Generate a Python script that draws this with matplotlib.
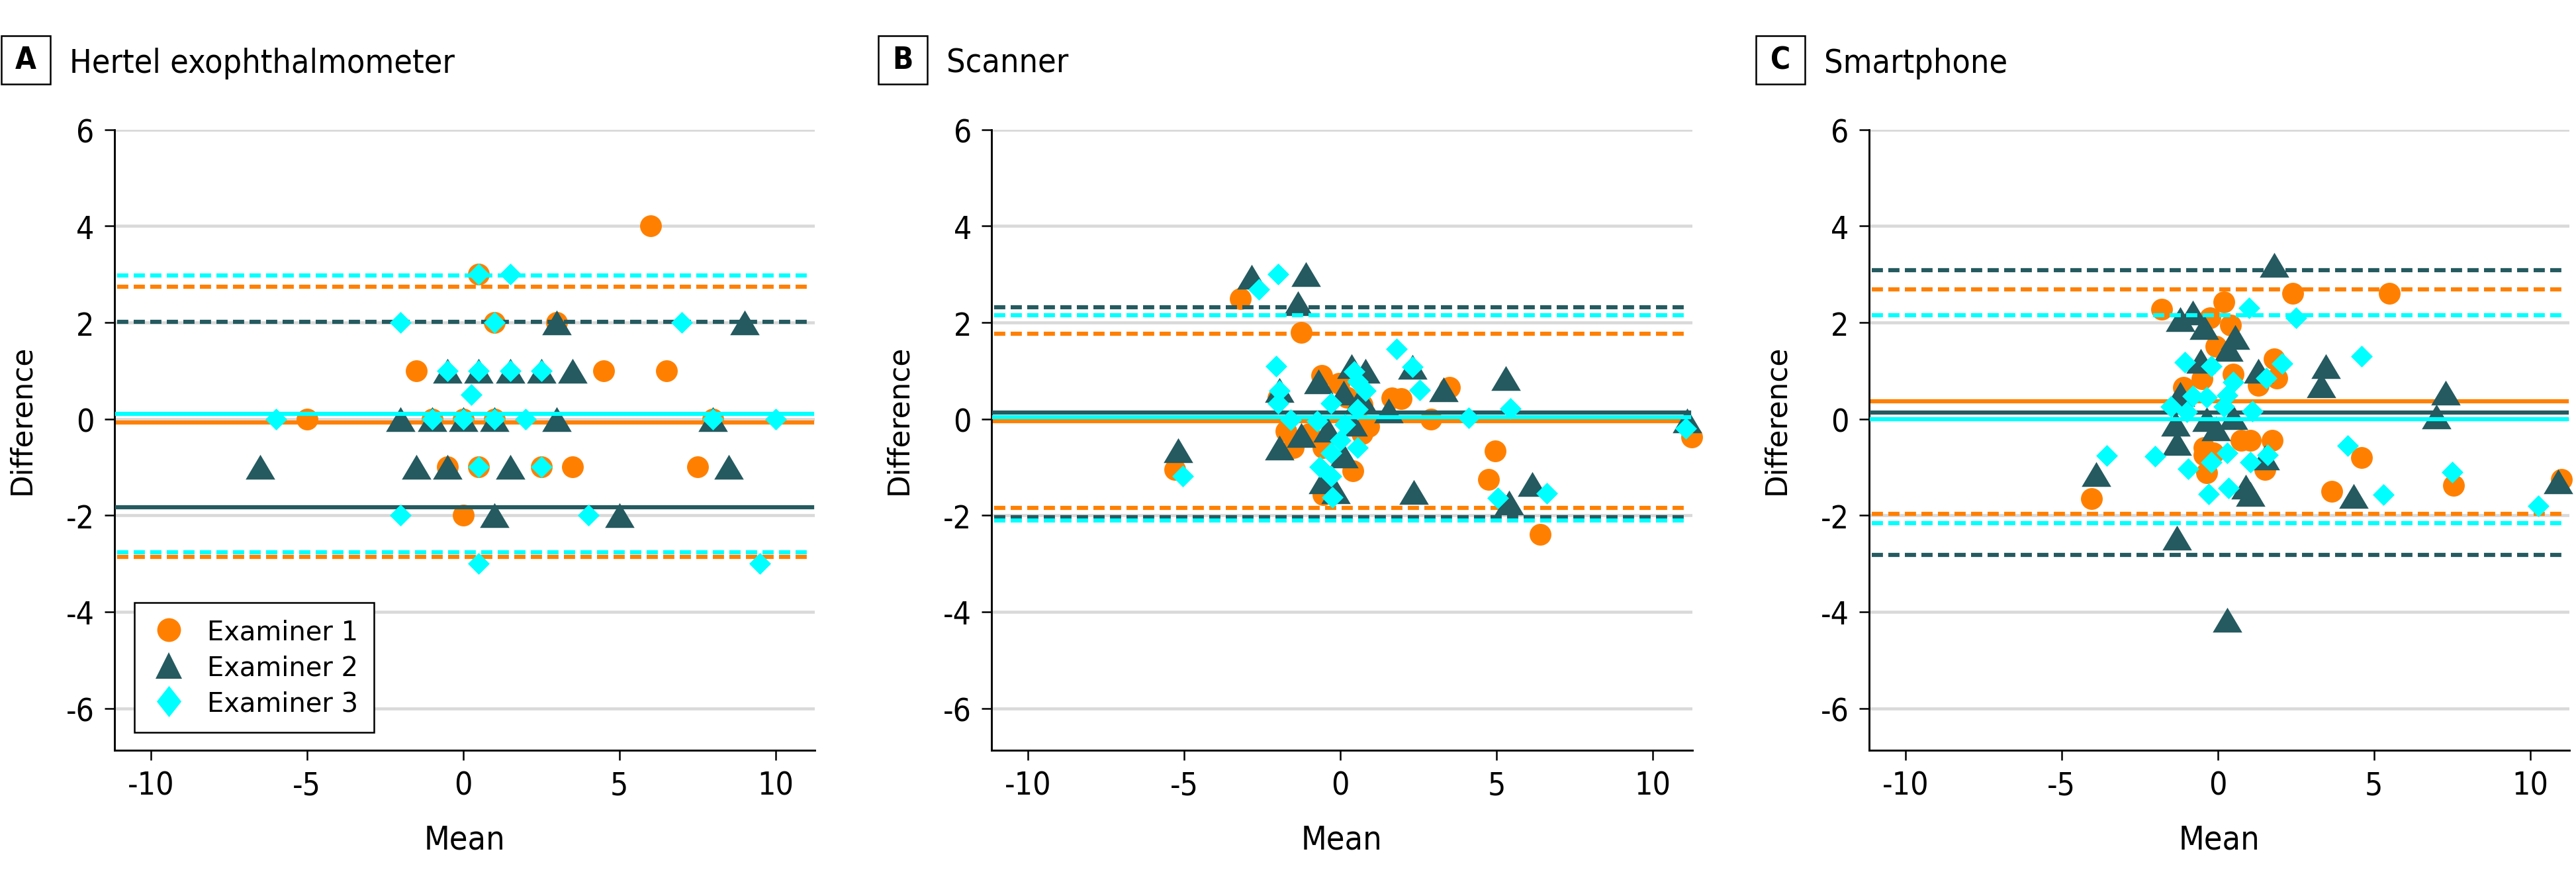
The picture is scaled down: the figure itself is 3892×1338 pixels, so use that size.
import matplotlib
matplotlib.use('Agg')
import matplotlib.pyplot as plt
from matplotlib.lines import Line2D
from matplotlib.patches import Rectangle
from matplotlib import font_manager

plt.rcParams['axes.unicode_minus'] = False

# Bland-Altman style panels: mean vs difference, three examiners
panel_letters = ['A', 'B', 'C']
panel_titles = ['Hertel exophthalmometer', 'Scanner', 'Smartphone']
examiners = ['Examiner 1', 'Examiner 2', 'Examiner 3']

# bias (solid) and limits of agreement (dashed), order: examiner 1, 2, 3
hertel_solid = [-0.07, -1.83, 0.10]
hertel_dashed = [[2.74, -2.86], [2.02], [2.98, -2.76]]
scanner_solid = [-0.05, 0.13, 0.03]
scanner_dashed = [[1.77, -1.84], [2.32, -2.03], [2.15, -2.10]]
smartphone_solid = [0.36, 0.13, 0.0]
smartphone_dashed = [[2.69, -1.97], [3.08, -2.82], [2.15, -2.16]]

# panel A
hertel_e1_mean = [-5, -1.5, -1, -0.5, 0, 0, 0.5, 0.5, 1, 1, 2.5, 3, 3.5, 4.5, 6, 6.5, 7.5, 8]
hertel_e1_diff = [0, 1, 0, -1, 0, -2, 3, -1, 2, 0, -1, 2, -1, 1, 4, 1, -1, 0]
hertel_e2_mean = [-6.5, -2, -1.5, -1, -0.5, -0.5, 0, 0.5, 1, 1, 1.5, 1.5, 2.5, 3, 3, 3.5, 5, 8, 8.5, 9]
hertel_e2_diff = [-1, 0, -1, 0, 1, -1, 0, 1, 0, -2, 1, -1, 1, 2, 0, 1, -2, 0, -1, 2]
hertel_e3_mean = [-6, -2, -2, -1, -0.5, 0, 0.25, 0.5, 0.5, 0.5, 0.5, 1, 1, 1.5, 1.5, 2, 2.5, 2.5, 4, 7, 8, 9.5, 10]
hertel_e3_diff = [0, 2, -2, 0, 1, 0, 0.5, 3, 1, -1, -3, 2, 0, 3, 1, 0, 1, -1, -2, 2, 0, -3, 0]

# panel B
scanner_e1_mean = [-5.3, -3.2, -2.0, -1.75, -1.25, -1.5, -0.6, -0.05, 0.7, 0.7, -0.55, 0.4, -0.55,
                   1.65, 1.95, 2.9, 3.5, 4.95, 4.75, 6.4, 11.25, 0.2, -1.0, 0.9]
scanner_e1_diff = [-1.05, 2.5, 0.44, -0.25, 1.8, -0.6, 0.9, 0.74, 0.3, -0.3, -0.6, -1.08, -1.57,
                   0.44, 0.42, 0.0, 0.66, -0.66, -1.26, -2.4, -0.37, 0.45, -0.3, -0.15]
scanner_e2_mean = [-5.2, -2.85, -1.1, -1.35, -1.95, -1.95, -1.25, -0.7, 0.35, 0.8, 0.1, 0.65, -0.4,
                   0.1, -0.55, -0.15, 1.55, 2.3, 3.3, 5.3, 2.35, 6.15, 5.4, 11.1, 0.4]
scanner_e2_diff = [-0.65, 2.95, 3.0, 2.4, 0.6, -0.6, -0.33, 0.78, 1.1, 1.0, 0.54, 0.44, -0.23,
                   -0.76, -1.3, -1.5, 0.17, 1.08, 0.62, 0.85, -1.52, -1.35, -1.74, -0.03, -0.1]
scanner_e3_mean = [-5.05, -2.6, -2.0, -2.05, -1.95, -2.0, -1.6, -0.3, 0.45, 0.55, 0.8, 0.55, -0.75,
                   0.15, 0.0, 0.55, -0.3, -0.65, -0.3, -0.25, 1.8, 2.3, 2.55, 4.1, 5.45, 5.05,
                   6.6, 11.05]
scanner_e3_diff = [-1.18, 2.68, 3.0, 1.1, 0.58, 0.32, -0.02, 0.32, 0.98, 0.78, 0.59, 0.2, -0.05,
                   -0.12, -0.45, -0.6, -0.7, -1.0, -1.18, -1.62, 1.45, 1.08, 0.6, 0.02, 0.22, -1.64,
                   -1.54, -0.2]

# panel C
smartphone_e1_mean = [-4.05, -1.8, -0.25, 0.2, 0.4, -0.05, -0.5, 0.5, -1.1, 0.75, -0.45, -0.45, -0.15,
                      -0.35, 1.3, 1.8, 1.9, 1.75, 1.5, 1.05, 2.4, 5.5, 4.6, 3.65, 7.55, 11.0]
smartphone_e1_diff = [-1.65, 2.27, 2.1, 2.43, 1.95, 1.5, 0.83, 0.93, 0.66, -0.44, -0.6, -0.75, -0.7,
                      -1.12, 0.7, 1.25, 0.85, -0.45, -1.05, -0.45, 2.6, 2.6, -0.8, -1.5, -1.38, -1.25]
smartphone_e2_mean = [-3.9, -1.2, -0.8, -0.45, 0.55, 0.35, -0.55, -1.2, -1.35, -1.3, -0.35, -0.05, 0.5,
                      0.9, -1.3, 0.3, 1.3, 1.5, 1.05, 1.8, 3.45, 3.3, 7.3, 7.0, 4.35, 10.9]
smartphone_e2_diff = [-1.15, 2.07, 2.2, 1.9, 1.7, 1.45, 1.2, 0.52, -0.1, -0.5, 0.0, -0.2, 0.03,
                      -1.4, -2.46, -4.17, 1.0, -0.8, -1.55, 3.2, 1.1, 0.7, 0.55, 0.05, -1.6, -1.3]
smartphone_e3_mean = [-3.55, -2.0, -1.05, -0.2, -0.8, -0.35, 0.5, 0.3, -1.5, -1.0, 0.2, 1.1, -0.95,
                      -0.2, 0.3, 1.05, -0.3, 0.35, 1.0, 2.05, 1.55, 1.6, 2.5, 4.6, 4.15, 5.3, 7.5, 10.25]
smartphone_e3_diff = [-0.76, -0.78, 1.18, 1.1, 0.48, 0.45, 0.76, 0.49, 0.26, 0.14, 0.25, 0.16, -1.04,
                      -0.9, -0.7, -0.9, -1.56, -1.43, 2.3, 1.15, 0.85, -0.75, 2.1, 1.3, -0.55, -1.57,
                      -1.1, -1.8]

colors = ['#ff8000', '#245a60', '#00ffff']
tri = [(-1, -0.84), (1, -0.84), (0, 0.84)]
dia = [(0, 1), (1, 0), (0, -1), (-1, 0)]
markers = ['o', tri, dia]
msizes = [7.9, 10.7, 7.9]

# condensed face if the system has one, otherwise a narrow-ish sans
narrow_family = 'Liberation Sans'
narrow_stretch = 'normal'
for f in font_manager.fontManager.ttflist:
    if f.name == 'DejaVu Sans' and f.stretch == 'condensed' and f.weight in (400, 'normal'):
        narrow_family, narrow_stretch = 'DejaVu Sans', 'condensed'
        break
narrow = dict(family=narrow_family, stretch=narrow_stretch)

panels = [
    (hertel_solid, hertel_dashed,
     [(hertel_e1_mean, hertel_e1_diff), (hertel_e2_mean, hertel_e2_diff), (hertel_e3_mean, hertel_e3_diff)]),
    (scanner_solid, scanner_dashed,
     [(scanner_e1_mean, scanner_e1_diff), (scanner_e2_mean, scanner_e2_diff), (scanner_e3_mean, scanner_e3_diff)]),
    (smartphone_solid, smartphone_dashed,
     [(smartphone_e1_mean, smartphone_e1_diff), (smartphone_e2_mean, smartphone_e2_diff),
      (smartphone_e3_mean, smartphone_e3_diff)]),
]

W, H, DPI = 3892, 1339, 300
fig = plt.figure(figsize=(W / DPI, H / DPI), dpi=DPI)

ax_left = [172.7, 1498, 2823.7]
ax_w, ax_top, ax_bot = 1058.5, 196.7, 1134

for k in range(3):
    solid, dashed, pts = panels[k]
    ax = fig.add_axes([ax_left[k] / W, (H - ax_bot) / H, ax_w / W, (ax_bot - ax_top) / H])
    ax.set_xlim(-11.17, 11.26)
    ax.set_ylim(-6.87, 6)
    ax.set_xticks([-10, -5, 0, 5, 10])
    ax.set_yticks([-6, -4, -2, 0, 2, 4, 6])
    for s in ['top', 'right']:
        ax.spines[s].set_visible(False)
    for s in ['left', 'bottom']:
        ax.spines[s].set_linewidth(0.7)
    ax.tick_params(length=3.7, width=0.6, pad=3.5, labelsize=11.5)
    for lab in ax.get_xticklabels() + ax.get_yticklabels():
        lab.set_family(narrow['family'])
        lab.set_stretch(narrow['stretch'])
    for yv in [-6, -4, -2, 0, 2, 4, 6]:
        ax.axhline(yv, color='#d9d9d9', lw=1.1, zorder=0)

    for e in range(3):
        ax.axhline(solid[e], xmin=0.004, xmax=0.996, color=colors[e], lw=1.5, zorder=2 + e * 2)
        for v in dashed[e]:
            ax.axhline(v, xmin=0.004, xmax=0.996, color=colors[e], lw=1.5, dashes=(2.7, 1.3),
                       zorder=2 + e * 2)
        ax.plot(pts[e][0], pts[e][1], ls='none', marker=markers[e], ms=msizes[e],
                color=colors[e], mec='none', zorder=3 + e * 2, clip_on=False)

    ax.set_xlabel('Mean', fontsize=12, va='top', **narrow)
    ax.xaxis.set_label_coords(0.5, -0.118)
    ax.set_ylabel('Difference', family='DejaVu Sans', fontsize=10.5)
    ax.yaxis.set_label_coords(-0.112, 0.534)

    if k == 0:
        handles = [
            Line2D([], [], ls='none', marker='o', ms=8.6, color=colors[0], mec='none'),
            Line2D([], [], ls='none', marker='^', ms=9.8, color=colors[1], mec='none'),
            Line2D([], [], ls='none', marker=[(0, 1), (0.79, 0), (0, -1), (-0.79, 0)], ms=11.3,
                   color=colors[2], mec='none'),
        ]
        leg = ax.legend(handles, examiners, loc='lower left', bbox_to_anchor=(0.0283, 0.0288),
                        borderaxespad=0, fancybox=False, framealpha=1, edgecolor='black',
                        prop={'family': 'DejaVu Sans', 'size': 9.6}, handlelength=1.4,
                        handletextpad=0.75, borderpad=0.6, labelspacing=0.35)
        leg.get_frame().set_linewidth(0.6)

    # panel letter box and title
    x0 = ax_left[k] - 171.7
    fig.add_artist(Rectangle((x0 / W + 0.0002, 1 - 128 / H), 74 / W, 73 / H,
                             transform=fig.transFigure, fill=False, lw=0.6, ec='black'))
    fig.text((x0 + 38) / W, 1 - 92 / H, panel_letters[k], fontweight='bold',
             fontsize=11, ha='center', va='center', **narrow)
    fig.text((x0 + 104) / W, 1 - 110 / H, panel_titles[k], fontsize=12,
             ha='left', va='baseline', **narrow)

fig.savefig('out.png', dpi=DPI)
